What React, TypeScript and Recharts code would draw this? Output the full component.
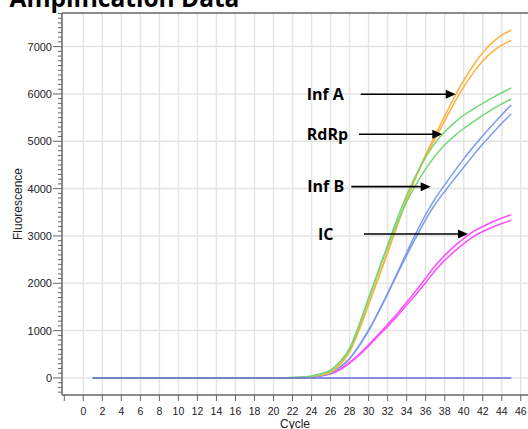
import React from 'react';
import { LineChart, Line, XAxis, YAxis, CartesianGrid, ReferenceLine } from 'recharts';

// ---------- data ----------
const cycles = [
  1, 2, 3, 4, 5, 6, 7, 8, 9, 10, 11, 12, 13, 14, 15, 16, 17, 18, 19, 20, 21, 22, 23,
  24, 25, 26, 27, 28, 29, 30, 31, 32, 33, 34, 35, 36, 37, 38, 39, 40, 41, 42, 43, 44, 45,
];

const infA1 = [
  0, 0, 0, 0, 0, 0, 0, 0, 0, 0, 0, 0, 0, 0, 0, 1, 1, 2, 2, 3, 4, 6,
  12, 30, 65, 125, 290, 560, 1030, 1570, 2110, 2660, 3230, 3780, 4270, 4720, 5125, 5530, 5925, 6285, 6600, 6870, 7085, 7240, 7350,
];
const infA2 = [
  0, 0, 0, 0, 0, 0, 0, 0, 0, 0, 0, 0, 0, 0, 0, 1, 1, 2, 2, 3, 4, 5,
  11, 28, 62, 120, 280, 550, 1010, 1550, 2090, 2640, 3210, 3760, 4250, 4680, 5055, 5430, 5805, 6150, 6445, 6695, 6890, 7030, 7130,
];
const rdrp1 = [
  0, 0, 0, 0, 0, 0, 0, 0, 0, 0, 0, 0, 0, 0, 0, 1, 1, 2, 3, 4, 6, 9,
  16, 42, 88, 165, 345, 630, 1120, 1690, 2250, 2810, 3360, 3860, 4290, 4663, 4965, 5200, 5390, 5550, 5680, 5800, 5915, 6025, 6127,
];
const rdrp2 = [
  0, 0, 0, 0, 0, 0, 0, 0, 0, 0, 0, 0, 0, 0, 0, 1, 1, 2, 3, 4, 6, 8,
  15, 38, 82, 155, 335, 610, 1100, 1670, 2230, 2770, 3280, 3720, 4090, 4417, 4695, 4920, 5110, 5270, 5410, 5545, 5675, 5790, 5894,
];
const infB1 = [
  0, 0, 0, 0, 0, 0, 0, 0, 0, 0, 0, 0, 0, 0, 0, 0, 1, 1, 2, 3, 4, 5,
  9, 22, 52, 102, 234, 412, 688, 1014, 1388, 1790, 2215, 2650, 3065, 3453, 3790, 4080, 4360, 4628, 4878, 5118, 5338, 5560, 5770,
];
const infB2 = [
  0, 0, 0, 0, 0, 0, 0, 0, 0, 0, 0, 0, 0, 0, 0, 0, 1, 1, 2, 3, 4, 5,
  8, 19, 48, 98, 226, 400, 672, 994, 1372, 1770, 2185, 2590, 2975, 3347, 3670, 3940, 4200, 4452, 4702, 4942, 5162, 5380, 5575,
];
const ic1 = [
  0, 0, 0, 0, 0, 0, 0, 0, 0, 0, 0, 0, 0, 0, 1, 2, 3, 3, 4, 4, 5, 6,
  9, 20, 46, 91, 184, 328, 500, 700, 915, 1130, 1355, 1600, 1850, 2110, 2370, 2590, 2780, 2943, 3090, 3200, 3295, 3378, 3450,
];
const ic2 = [
  0, 0, 0, 0, 0, 0, 0, 0, 0, 0, 0, 0, 0, 0, 1, 2, 3, 3, 4, 4, 5, 6,
  8, 19, 44, 87, 176, 314, 480, 675, 885, 1090, 1305, 1540, 1770, 2010, 2270, 2484, 2670, 2837, 2985, 3095, 3185, 3262, 3330,
];
const ntc = [
  0, 0, 0, 0, 0, 0, 0, 0, 0, 0, 0, 0, 0, 0, 0, 0, 0, 0, 0, 0, 0, 0, 0,
  0, 0, 0, 0, 0, 0, 0, 0, 0, 0, 0, 0, 0, 0, 0, 0, 0, 0, 0, 0, 0, 0,
];

const xTicks = [-2, 0, 2, 4, 6, 8, 10, 12, 14, 16, 18, 20, 22, 24, 26, 28, 30, 32, 34, 36, 38, 40, 42, 44, 46];
const xGridValues = [0, 2, 4, 6, 8, 10, 12, 14, 16, 18, 20, 22, 24, 26, 28, 30, 32, 34, 36, 38, 40, 42, 44, 46];
const yMajorTicks = [0, 1000, 2000, 3000, 4000, 5000, 6000, 7000];
const yMinorStep = 100;
const X_DOMAIN: [number, number] = [-2.24, 46.76];
const Y_DOMAIN: [number, number] = [-360, 7710];
const yAllTicks: number[] = [];
for (let v = -300; v <= 7700; v += yMinorStep) yAllTicks.push(v);

// annotations (in data coordinates)
const annLabels = ['Inf A', 'RdRp', 'Inf B', 'IC'];
const annTextX = [23.49, 23.49, 23.55, 24.68];
const annFromX = [29.17, 28.99, 28.18, 29.52];
const annToX = [39.16, 37.75, 36.53, 40.45];
const annY = [5994, 5149, 4042, 3042];

const data = cycles.map((c, i) => ({
  cycle: c,
  infA1: infA1[i],
  infA2: infA2[i],
  rdrp1: rdrp1[i],
  rdrp2: rdrp2[i],
  infB1: infB1[i],
  infB2: infB2[i],
  ic1: ic1[i],
  ic2: ic2[i],
  ntc: ntc[i],
}));

const AXIS_FONT = '"Liberation Sans", Arial, sans-serif';
const AXIS_COLOR = '#666';

const YTick = (props: any) => {
  const { x, y, payload } = props;
  const v = payload.value as number;
  const major = v % 1000 === 0 && v >= 0;
  return (
    <g>
      <line x1={x - (major ? 9 : 4)} x2={x} y1={y} y2={y} stroke={AXIS_COLOR} strokeWidth={1} />
      {major && (
        <text x={x - 10} y={y} dy={4} textAnchor="end" fontSize={11} fill="#222" fontFamily={AXIS_FONT}>
          {v}
        </text>
      )}
    </g>
  );
};

const XTick = (props: any) => {
  const { x, y, payload } = props;
  if (payload.value < 0) return <g />;
  return (
    <text x={x} y={y} dy={14} textAnchor="middle" fontSize={10.5} fill="#222" fontFamily={AXIS_FONT}>
      {payload.value}
    </text>
  );
};

const ArrowShape = (props: any) => {
  const { x1, y1, x2, label, textX, fromX, toX } = props;
  const startPx = x1 + ((x2 - x1) * (fromX - textX)) / (toX - textX);
  const head = 10;
  return (
    <g>
      <line x1={startPx} x2={x2 - head + 1} y1={y1} y2={y1} stroke="#000" strokeWidth={1.6} />
      <polygon points={`${x2},${y1} ${x2 - head},${y1 - 4.5} ${x2 - head},${y1 + 4.5}`} fill="#000" />
      <text
        x={x1}
        y={y1}
        dy={5.8}
        fontSize={16}
        fontWeight={700}
        fill="#000"
        fontFamily='"Open Sans", "Liberation Sans", sans-serif'
      >
        {label}
      </text>
    </g>
  );
};

const lineCommon = {
  type: 'monotone' as const,
  dot: false,
  isAnimationActive: false,
  strokeWidth: 1.5,
  activeDot: false,
};

export default function App() {
  return (
    <div style={{ position: 'absolute', left: 0, top: 0, width: 528, height: 429, background: '#fff', overflow: 'hidden' }}>
      <LineChart width={528} height={429} data={data} margin={{ top: 13, right: 0, bottom: 0, left: 0 }}>
        <CartesianGrid
          stroke="#e4e4e4"
          strokeWidth={1.5}
          horizontalValues={yMajorTicks}
          verticalValues={xGridValues}
        />
        <XAxis
          dataKey="cycle"
          type="number"
          domain={X_DOMAIN}
          ticks={xTicks}
          interval={0}
          allowDataOverflow
          height={34}
          tickSize={6}
          tickMargin={0}
          tick={<XTick />}
          axisLine={{ stroke: AXIS_COLOR, strokeWidth: 1.5 }}
          tickLine={{ stroke: AXIS_COLOR, strokeWidth: 1 }}
          label={{ value: 'Cycle', position: 'insideBottom', offset: 1, fontSize: 12, fill: '#222', fontFamily: AXIS_FONT }}
        />
        <YAxis
          type="number"
          domain={Y_DOMAIN}
          ticks={yAllTicks}
          interval={0}
          allowDataOverflow
          width={62}
          tickSize={0}
          tickMargin={0}
          tickLine={false}
          tick={<YTick />}
          axisLine={{ stroke: AXIS_COLOR, strokeWidth: 1.5 }}
          label={{
            value: 'Fluorescence',
            angle: -90,
            position: 'insideLeft',
            offset: 18,
            fontSize: 12,
            fill: '#222',
            fontFamily: AXIS_FONT,
            style: { textAnchor: 'middle' },
          }}
        />
        <ReferenceLine y={Y_DOMAIN[1]} stroke={AXIS_COLOR} strokeWidth={1.5} />

        <Line {...lineCommon} dataKey="ic1" stroke="#ff4dff" />
        <Line {...lineCommon} dataKey="ic2" stroke="#ff4dff" />
        <Line {...lineCommon} dataKey="infB1" stroke="#7b9bef" />
        <Line {...lineCommon} dataKey="infB2" stroke="#7b9bef" />
        <Line {...lineCommon} dataKey="infA1" stroke="#fdb140" />
        <Line {...lineCommon} dataKey="infA2" stroke="#fdb140" />
        <Line {...lineCommon} dataKey="rdrp1" stroke="#74d874" />
        <Line {...lineCommon} dataKey="rdrp2" stroke="#74d874" />
        <Line {...lineCommon} dataKey="ntc" stroke="#6b6be0" />

        {annLabels.map((label, i) => (
          <ReferenceLine
            key={label}
            segment={[
              { x: annTextX[i], y: annY[i] },
              { x: annToX[i], y: annY[i] },
            ]}
            shape={<ArrowShape label={label} textX={annTextX[i]} fromX={annFromX[i]} toX={annToX[i]} />}
          />
        ))}
      </LineChart>
      <svg width={528} height={30} style={{ position: 'absolute', left: 0, top: 0 }}>
        <text x={9.5} y={7} fontSize={24.5} fontWeight={700} fill="#000" fontFamily='"Open Sans", sans-serif'>
          Amplification Data
        </text>
      </svg>
    </div>
  );
}
